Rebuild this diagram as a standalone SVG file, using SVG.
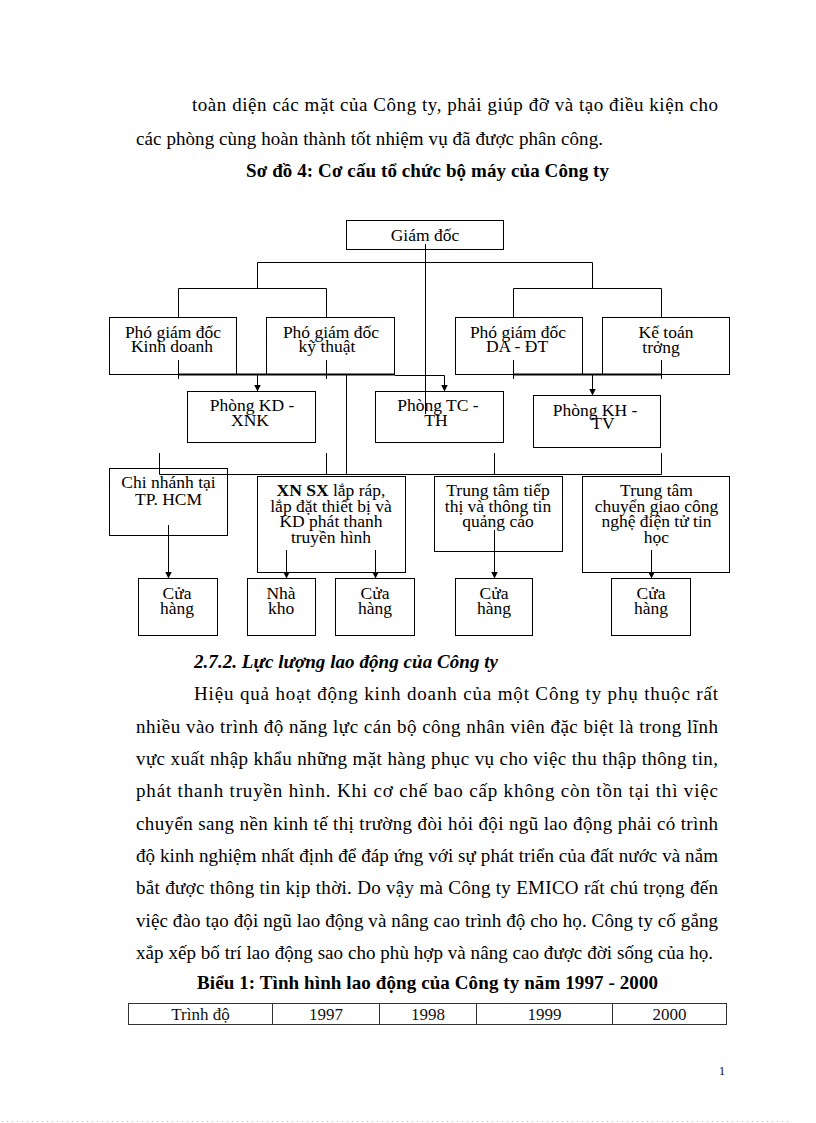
<svg xmlns="http://www.w3.org/2000/svg" width="816" height="1123" viewBox="0 0 816 1123">
<style>
.body{font-family:"Liberation Serif","Times New Roman",serif;font-size:19px;fill:#000}
.b{font-weight:bold}
.bi{font-weight:bold;font-style:italic}
.nt{font-family:"Liberation Serif","Times New Roman",serif;font-size:17.5px;fill:#000;text-anchor:middle}
.box{fill:none;stroke:#000;stroke-width:1}
.ln{fill:none;stroke:#000;stroke-width:1}
.thick{fill:none;stroke:#000;stroke-width:2.2}
.arr{fill:none;stroke:#000;stroke-width:1;marker-end:url(#ah)}
.tb{fill:none;stroke:#333;stroke-width:1}
.tt{font-family:"Liberation Serif","Times New Roman",serif;font-size:17px;fill:#111;text-anchor:middle}
</style>
<defs>
<marker id="ah" markerUnits="userSpaceOnUse" markerWidth="8" markerHeight="8" refX="7" refY="3.5" orient="auto">
<path d="M0,0 L7,3.5 L0,7 z" fill="#000"/>
</marker>
</defs>
<rect x="0" y="0" width="816" height="1123" fill="#fff"/>

<!-- top text -->
<text class="body" x="192" y="111" textLength="526" lengthAdjust="spacing">toàn diện các mặt của Công ty, phải giúp  đỡ và tạo điều kiện cho</text>
<text class="body" x="136" y="144.5" textLength="467" lengthAdjust="spacing">các phòng cùng hoàn thành tốt nhiệm vụ đã được phân công.</text>
<text class="body b" x="246" y="177" textLength="363" lengthAdjust="spacing">Sơ đồ 4: Cơ cấu tổ chức bộ máy của Công ty</text>

<!-- nodes -->
<g id="giam-doc"><rect class="box" x="346.5" y="220.5" width="157" height="29"/><text class="nt" x="425" y="240.5">Giám đốc</text></g>

<g id="pgd-kd"><rect class="box" x="109.5" y="317.5" width="127" height="57"/><text class="nt" x="173" y="338">Phó giám đốc</text><text class="nt" x="172" y="352">Kinh doanh</text></g>
<g id="pgd-kt"><rect class="box" x="266.5" y="317.5" width="128" height="57"/><text class="nt" x="331" y="338">Phó giám đốc</text><text class="nt" x="327" y="352">kỹ thuật</text></g>
<g id="pgd-da"><rect class="box" x="455.5" y="317.5" width="127" height="57"/><text class="nt" x="518" y="338">Phó giám đốc</text><text class="nt" x="517" y="352">DA  - ĐT</text></g>
<g id="ke-toan"><rect class="box" x="602.5" y="317.5" width="127" height="57"/><text class="nt" x="666" y="338">Kế toán</text><text class="nt" x="661" y="353">trởng</text></g>

<g id="phong-kd"><rect class="box" x="187.5" y="391.5" width="128" height="51"/><text class="nt" x="252" y="410.5">Phòng KD -</text><text class="nt" x="250" y="426">XNK</text></g>
<g id="phong-tc"><rect class="box" x="375.5" y="391.5" width="128" height="51"/><text class="nt" x="438" y="410.5">Phòng TC -</text><text class="nt" x="436" y="426">TH</text></g>
<g id="phong-kh"><rect class="box" x="533.5" y="395.5" width="127" height="52"/><text class="nt" x="595" y="415.5">Phòng KH -</text><text class="nt" x="603" y="429">TV</text></g>

<g id="chi-nhanh"><rect class="box" x="109.5" y="468.5" width="118" height="67"/><text class="nt" x="168.5" y="488">Chi nhánh tại</text><text class="nt" x="168.5" y="505">TP. HCM</text></g>
<g id="xn-sx"><rect class="box" x="257.5" y="476.5" width="148" height="96"/><text class="nt" x="331" y="495.5"><tspan font-weight="bold">XN SX</tspan> lắp ráp,</text><text class="nt" x="331" y="511.5">lắp đặt thiết bị và</text><text class="nt" x="331" y="527">KD  phát thanh</text><text class="nt" x="331" y="543">truyền hình</text></g>
<g id="tt-tiep-thi"><rect class="box" x="434.5" y="476.5" width="128" height="75"/><text class="nt" x="498" y="495.5">Trung tâm tiếp</text><text class="nt" x="498" y="511.5">thị và thông tin</text><text class="nt" x="498" y="527">quảng cáo</text></g>
<g id="tt-chuyen-giao"><rect class="box" x="582.5" y="476.5" width="147" height="96"/><text class="nt" x="656.5" y="495.5">Trung tâm</text><text class="nt" x="656.5" y="511.5">chuyển giao công</text><text class="nt" x="656.5" y="527">nghệ điện tử tin</text><text class="nt" x="656.5" y="543">học</text></g>

<g id="cua-hang-1"><rect class="box" x="138.5" y="578.5" width="79" height="57"/><text class="nt" x="177" y="599">Cửa</text><text class="nt" x="177" y="614">hàng</text></g>
<g id="nha-kho"><rect class="box" x="247.5" y="578.5" width="68" height="57"/><text class="nt" x="281" y="599">Nhà</text><text class="nt" x="281" y="614">kho</text></g>
<g id="cua-hang-2"><rect class="box" x="335.5" y="578.5" width="79" height="57"/><text class="nt" x="375" y="599">Cửa</text><text class="nt" x="375" y="614">hàng</text></g>
<g id="cua-hang-3"><rect class="box" x="455.5" y="578.5" width="77" height="57"/><text class="nt" x="494" y="599">Cửa</text><text class="nt" x="494" y="614">hàng</text></g>
<g id="cua-hang-4"><rect class="box" x="611.5" y="578.5" width="79" height="57"/><text class="nt" x="651" y="599">Cửa</text><text class="nt" x="651" y="614">hàng</text></g>

<!-- connectors -->
<g id="connectors">
<path class="ln" d="M425.5,244 V414"/>
<path class="ln" d="M257.5,262.5 H592.5 M257.5,262.5 V288.5 M592.5,262.5 V288.5"/>
<path class="ln" d="M178.5,288.5 H326.5 M513.5,288.5 H661.5 M178.5,288.5 V317.5 M326.5,288.5 V317.5 M513.5,288.5 V317.5 M661.5,288.5 V317.5"/>
<path class="ln" d="M178.5,360 V379 M326.5,360 V379 M513.5,360 V379 M661.5,360 V379"/>
<path class="thick" d="M178,374.5 H395 M513,374.5 H662"/>
<path class="ln" d="M395,375.5 H444.5"/>
<path class="arr" d="M257.5,375 V391.5"/>
<path class="arr" d="M444.5,375.5 V391.5"/>
<path class="arr" d="M592.5,375 V395.5"/>
<path class="ln" d="M346.5,375 V474.5"/>
<path class="ln" d="M159.5,453 V474.5 M326.5,453 V474.5 M494.5,453 V474.5 M661.5,453 V474.5"/>
<path class="ln" d="M159.5,474.5 H661.5"/>
<path class="arr" d="M168.5,525 V578.5"/>
<path class="arr" d="M286.5,550 V578.5"/>
<path class="arr" d="M375.5,550 V578.5"/>
<path class="arr" d="M494.5,530 V578.5"/>
<path class="arr" d="M651.5,550 V578.5"/>
</g>

<!-- lower text -->
<text class="body bi" x="194" y="668" textLength="304" lengthAdjust="spacing">2.7.2. Lực lượng lao động của Công ty</text>
<text class="body" x="194" y="700" textLength="524" lengthAdjust="spacing">Hiệu  quả  hoạt  động  kinh  doanh  của  một  Công  ty  phụ  thuộc  rất</text>
<text class="body" x="136" y="732.5" textLength="582" lengthAdjust="spacing">nhiều  vào  trình  độ  năng  lực  cán  bộ  công  nhân  viên  đặc  biệt  là  trong  lĩnh</text>
<text class="body" x="136" y="765" textLength="582" lengthAdjust="spacing">vực xuất nhập khẩu những mặt hàng phục vụ cho việc thu thập thông tin,</text>
<text class="body" x="136" y="797" textLength="582" lengthAdjust="spacing">phát thanh truyền hình. Khi cơ chế bao cấp không còn tồn tại thì việc</text>
<text class="body" x="136" y="829.5" textLength="582" lengthAdjust="spacing">chuyển sang nền kinh tế thị trường đòi hỏi đội ngũ lao động phải có trình</text>
<text class="body" x="136" y="862" textLength="582" lengthAdjust="spacing">độ kinh nghiệm nhất định để đáp ứng với sự phát triển của đất nước và nắm</text>
<text class="body" x="136" y="894" textLength="582" lengthAdjust="spacing">bắt được thông tin kịp thời. Do vậy mà Công ty EMICO rất chú trọng đến</text>
<text class="body" x="136" y="926.5" textLength="582" lengthAdjust="spacing">việc đào tạo đội ngũ lao động và nâng cao trình độ cho họ. Công ty cố gắng</text>
<text class="body" x="136" y="959" textLength="577" lengthAdjust="spacing">xắp xếp bố trí lao động sao cho phù hợp và nâng cao được đời sống của họ.</text>
<text class="body b" x="197" y="989" textLength="461" lengthAdjust="spacing">Biểu 1: Tình hình lao động của Công ty năm 1997 - 2000</text>

<!-- table -->
<g id="table">
<rect class="tb" x="128.5" y="1003.5" width="598" height="21"/>
<path class="tb" d="M272.5,1003.5 V1024.5 M379.5,1003.5 V1024.5 M476.5,1003.5 V1024.5 M612.5,1003.5 V1024.5"/>
<text class="tt" x="200.5" y="1019.5">Trình độ</text>
<text class="tt" x="326" y="1019.5">1997</text>
<text class="tt" x="428" y="1019.5">1998</text>
<text class="tt" x="544.5" y="1019.5">1999</text>
<text class="tt" x="669.5" y="1019.5">2000</text>
</g>

<text x="722" y="1075" font-family="Liberation Serif, serif" font-size="12" text-anchor="middle" fill="#000">1</text>
<path d="M2,1121.5 H790" stroke="#bbb" stroke-width="1" stroke-dasharray="1 4" fill="none"/>
</svg>
